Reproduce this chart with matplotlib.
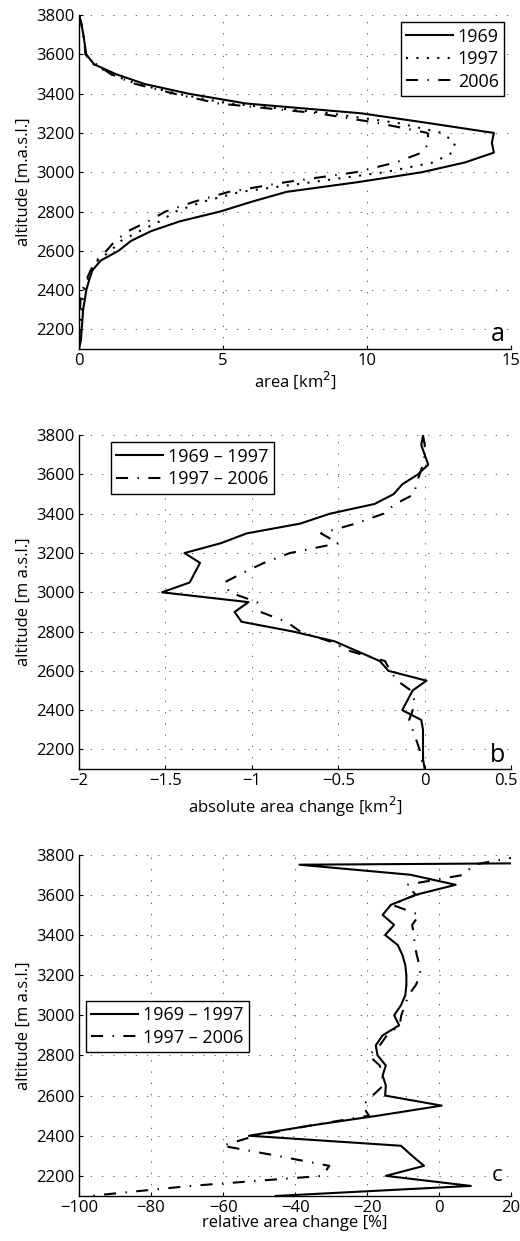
import matplotlib
matplotlib.use("Agg")
import matplotlib.pyplot as plt
import matplotlib.transforms as mtransforms
from matplotlib.ticker import FuncFormatter

plt.rcParams['font.family'] = ['Open Sans', 'DejaVu Sans']

# altitude bands (m a.s.l.), top to bottom
altitude = [3800, 3750, 3700, 3650, 3600, 3550, 3500, 3450, 3400, 3350,
            3300, 3250, 3200, 3150, 3100, 3050, 3000, 2950, 2900, 2850,
            2800, 2750, 2700, 2650, 2600, 2550, 2500, 2450, 2400, 2350,
            2300, 2250, 2200, 2150, 2100]

# area per band [km2]
area_1969 = [0.0, 0.09, 0.15, 0.2, 0.25, 0.52, 1.27, 2.26, 3.8, 5.8,
             9.8, 12.15, 14.4, 14.33, 14.4, 13.4, 11.9, 9.7, 7.2, 6.0,
             4.9, 3.5, 2.5, 1.8, 1.37, 0.75, 0.46, 0.35, 0.25, 0.2,
             0.14, 0.12, 0.09, 0.07, 0.0]
area_1997 = [0.0, 0.09, 0.15, 0.2, 0.22, 0.5, 1.1, 2.0, 3.4, 5.2,
             8.7, 11.1, 12.6, 13.05, 12.96, 12.3, 10.6, 8.1, 5.6, 4.3,
             3.36, 2.8, 2.1, 1.45, 1.1, 0.64, 0.46, 0.3, 0.17, 0.12,
             0.1, 0.08, 0.07, 0.05, 0.0]
area_2006 = [0.0, 0.09, 0.15, 0.2, 0.22, 0.6, 1.1, 1.95, 3.3, 4.85,
             8.3, 10.4, 12.1, 12.15, 11.9, 11.0, 9.6, 7.2, 5.2, 4.0,
             3.0, 2.4, 1.7, 1.25, 0.95, 0.6, 0.4, 0.25, 0.12, 0.05,
             0.04, 0.03, 0.02, 0.01, 0.0]

# absolute change [km2]
abs_69_97 = [-0.01, -0.02, 0.0, 0.02, -0.04, -0.13, -0.18, -0.29, -0.55, -0.72,
             -1.03, -1.18, -1.39, -1.30, -1.33, -1.36, -1.52, -1.02, -1.10, -1.06,
             -0.76, -0.52, -0.39, -0.26, -0.21, 0.01, -0.07, -0.10, -0.13, -0.02,
             -0.01, -0.01, -0.01, -0.01, 0.0]
abs_97_06 = [-0.01, 0.0, 0.0, -0.01, -0.03, -0.05, -0.06, -0.17, -0.24, -0.40,
             -0.60, -0.50, -0.78, -0.93, -1.05, -1.16, -1.13, -0.97, -0.95, -0.80,
             -0.72, -0.55, -0.43, -0.23, -0.20, -0.16, -0.08, -0.06, -0.07, -0.09,
             -0.07, -0.05, -0.03, -0.02, 0.0]

# relative change [%]
rel_69_97 = [400, -38.8, -8, 4.6, -6.5, -13.4, -15.7, -12.5, -15, -11.5,
             -10.2, -9.4, -9.1, -9.1, -9.4, -10.6, -12.5, -11.1, -15.7, -17.6,
             -17.1, -14.8, -15.7, -14.8, -15, 0.7, -17, -36, -52.8, -10.6,
             -7.5, -4.2, -14.8, 8.8, -45.4]
rel_97_06 = [25, 9.5, 7, -9, -6.5, -13, -5.5, -7.5, -7.0, -6.8,
             -6.2, -5.5, -5.2, -6.5, -8.5, -9.5, -10.5, -11, -14.5, -16.5,
             -19.6, -16.5, -15.8, -15.5, -18.5, -21.3, -19.5, -36, -51, -60.2,
             -45, -30.5, -32.4, -69, -97]

dotted = (0, (1, 4))
dashdot = (0, (5.8, 4.5, 0.7, 4.5))
lw = 1.5
fs = 12
lfs = 13

fig = plt.figure(figsize=(5.2, 12.41), dpi=100)
ax_a = fig.add_axes([0.152, 0.7188, 0.831, 0.269])
ax_b = fig.add_axes([0.152, 0.3803, 0.831, 0.269])
ax_c = fig.add_axes([0.152, 0.0363, 0.831, 0.275])


def style(ax):
    for s in ['top', 'right']:
        ax.spines[s].set_visible(False)
    for s in ['left', 'bottom']:
        ax.spines[s].set_linewidth(1.0)
    ax.grid(True, color='0.25', linestyle=(0, (1.5, 12)), linewidth=0.6)
    ax.tick_params(direction='in', length=3, labelsize=fs, width=0.8, pad=3)
    ax.set_ylim(2100, 3800)
    ax.set_yticks(range(2200, 3801, 200))
    ax.xaxis.set_major_formatter(FuncFormatter(lambda v, p: ('%g' % v).replace('-', '\u2212')))


def legend(ax, loc, anchor):
    ax.legend(loc=loc, bbox_to_anchor=anchor, borderaxespad=0,
              fancybox=False, framealpha=1, edgecolor='k', fontsize=lfs,
              handlelength=2.6, handletextpad=0.25, labelspacing=0.25,
              borderpad=0.3)


# panel a
ax_a.plot(area_1969, altitude, color='k', lw=lw, label='1969')
ax_a.plot(area_1997, altitude, color='k', lw=lw, linestyle=dotted, label='1997')
ax_a.plot(area_2006, altitude, color='k', lw=lw, linestyle=dashdot, label='2006')
style(ax_a)
ax_a.set_xlim(0, 15)
ax_a.set_xticks([0, 5, 10, 15])
ax_a.set_xlabel('area [km$^2$]', fontsize=fs, labelpad=0)
ax_a.set_ylabel('altitude [m.a.s.l.]', fontsize=fs, labelpad=3)
ax_a.text(0.985, 0.025, 'a', transform=ax_a.transAxes, fontsize=18,
          ha='right', va='baseline')
legend(ax_a, 'upper right', (0.984, 0.979))

# panel b
ax_b.plot(abs_69_97, altitude, color='k', lw=lw, label='1969 \u2013 1997')
ax_b.plot(abs_97_06, altitude, color='k', lw=lw, linestyle=dashdot, label='1997 \u2013 2006')
style(ax_b)
ax_b.set_xlim(-2, 0.5)
ax_b.set_xticks([-2, -1.5, -1, -0.5, 0, 0.5])
ax_b.set_xlabel('absolute area change [km$^2$]', fontsize=fs, labelpad=4)
ax_b.set_ylabel('altitude [m a.s.l.]', fontsize=fs, labelpad=3)
ax_b.text(0.985, 0.022, 'b', transform=ax_b.transAxes, fontsize=18,
          ha='right', va='baseline')
legend(ax_b, 'upper left', (0.074, 0.979))
# nudge the last tick label so it stays inside the figure
last = ax_b.get_xticklabels()[-1]
last.set_transform(last.get_transform() +
                   mtransforms.ScaledTranslation(-4 / 72, 0, fig.dpi_scale_trans))

# panel c
ax_c.plot(rel_69_97, altitude, color='k', lw=lw, label='1969 \u2013 1997')
ax_c.plot(rel_97_06, altitude, color='k', lw=lw, linestyle=dashdot, label='1997 \u2013 2006')
style(ax_c)
ax_c.set_xlim(-100, 20)
ax_c.set_xticks(range(-100, 21, 20))
ax_c.set_xlabel('relative area change [%]', fontsize=fs, labelpad=-1)
ax_c.set_ylabel('altitude [m a.s.l.]', fontsize=fs, labelpad=3)
ax_c.text(0.98, 0.044, 'c', transform=ax_c.transAxes, fontsize=16,
          ha='right', va='baseline')
legend(ax_c, 'upper left', (0.016, 0.572))

fig.savefig('out.png', dpi=100)
